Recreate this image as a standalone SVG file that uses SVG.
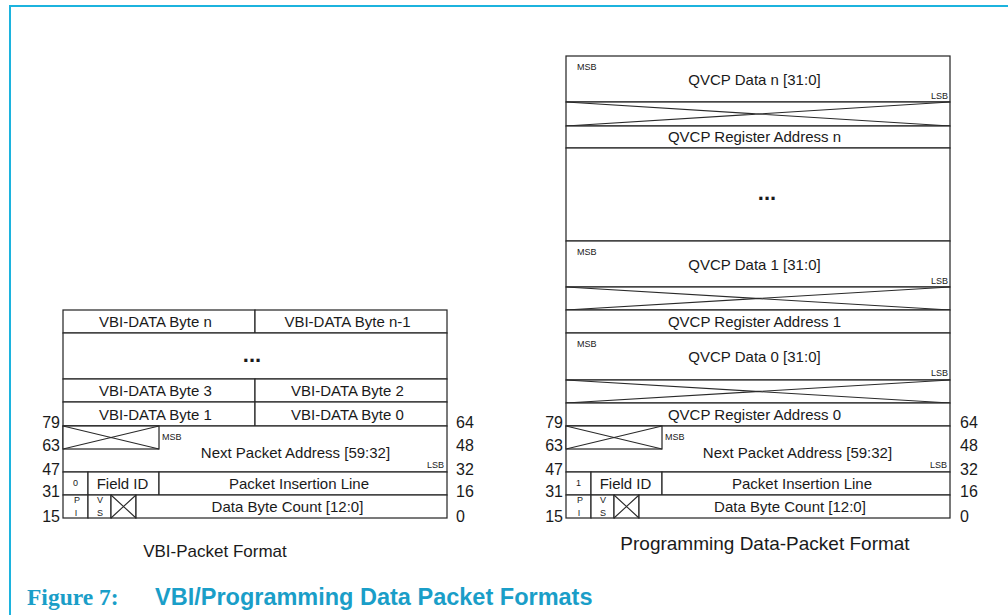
<svg xmlns="http://www.w3.org/2000/svg" width="1008" height="615" viewBox="0 0 1008 615">
<style>
.box{fill:#fff;stroke:#2a2a2a;stroke-width:1.25}
.x{stroke:#2a2a2a;stroke-width:1.1;fill:none}
.t{font-family:"Liberation Sans",Arial,sans-serif;font-size:15px;fill:#1a1a1a;text-anchor:middle}
.s{font-family:"Liberation Sans",Arial,sans-serif;font-size:9px;fill:#1a1a1a}
.c{text-anchor:middle}
.e{text-anchor:end}
.n{font-family:"Liberation Sans",Arial,sans-serif;font-size:16px;fill:#1a1a1a}
.cap{font-family:"Liberation Sans",Arial,sans-serif;font-size:17px;fill:#1a1a1a;text-anchor:middle}
.dots{font-family:"Liberation Sans",Arial,sans-serif;font-size:22px;font-weight:bold;fill:#1a1a1a;text-anchor:middle}
</style>
<path d="M10 615 V6 H1008" stroke="#1cb3de" stroke-width="2" fill="none"/>

<!-- VBI packet -->
<g id="vbi-byte-n">
<rect class="box" x="63" y="310" width="192" height="23"/><rect class="box" x="255" y="310" width="192" height="23"/>
<text class="t" x="155.5" y="327">VBI-DATA Byte n</text><text class="t" x="347.5" y="327">VBI-DATA Byte n-1</text>
</g>
<g id="vbi-ellipsis">
<rect class="box" x="63" y="333" width="384" height="46"/>
<text class="dots" x="252" y="362">...</text>
</g>
<g id="vbi-byte-3">
<rect class="box" x="63" y="379" width="192" height="23"/><rect class="box" x="255" y="379" width="192" height="23"/>
<text class="t" x="155.5" y="396">VBI-DATA Byte 3</text><text class="t" x="347.5" y="396">VBI-DATA Byte 2</text>
</g>
<g id="vbi-byte-1">
<rect class="box" x="63" y="402" width="192" height="24"/><rect class="box" x="255" y="402" width="192" height="24"/>
<text class="t" x="155.5" y="419.5">VBI-DATA Byte 1</text><text class="t" x="347.5" y="419.5">VBI-DATA Byte 0</text>
</g>
<g id="vbi-next-addr">
<rect class="box" x="63" y="426" width="384" height="46"/>
<rect class="box" x="63" y="426" width="96" height="23"/>
<path class="x" d="M63 426 L159 449 M63 449 L159 426"/>
<text class="s" x="162" y="440">MSB</text>
<text class="t" x="295.5" y="458">Next Packet Address [59:32]</text>
<text class="s e" x="444" y="468">LSB</text>
</g>
<g id="vbi-field">
<rect class="box" x="63" y="472" width="25" height="23"/><rect class="box" x="88" y="472" width="71" height="23"/><rect class="box" x="159" y="472" width="288" height="23"/>
<text class="s c" x="75.5" y="486">0</text>
<text class="t" x="122.5" y="489">Field ID</text>
<text class="t" x="299" y="489">Packet Insertion Line</text>
</g>
<g id="vbi-count">
<rect class="box" x="63" y="495" width="25" height="23"/><rect class="box" x="88" y="495" width="23" height="23"/><rect class="box" x="111" y="495" width="25" height="23"/><rect class="box" x="136" y="495" width="311" height="23"/>
<path class="x" d="M111 495 L136 518 M111 518 L136 495"/>
<text class="s c" x="77" y="503">P</text><text class="s c" x="76" y="516">I</text>
<text class="s c" x="100" y="503">V</text><text class="s c" x="100" y="516">S</text>
<text class="t" x="287.5" y="511.5">Data Byte Count [12:0]</text>
</g>
<g id="vbi-bits">
<text class="n e" x="60" y="428">79</text><text class="n e" x="60" y="451">63</text><text class="n e" x="60" y="475">47</text><text class="n e" x="60" y="497">31</text><text class="n e" x="60" y="522">15</text>
<text class="n" x="456" y="428">64</text><text class="n" x="456" y="451">48</text><text class="n" x="456" y="475">32</text><text class="n" x="456" y="497">16</text><text class="n" x="456" y="522">0</text>
</g>
<text id="vbi-caption" class="cap" x="215" y="557">VBI-Packet Format</text>

<!-- Programming packet -->
<g id="prog-data-n">
<rect class="box" x="566" y="56" width="384" height="46"/>
<text class="s" x="577" y="70">MSB</text>
<text class="t" x="754.5" y="84.5">QVCP Data n [31:0]</text>
<text class="s e" x="948" y="99">LSB</text>
</g>
<g id="prog-x-n">
<rect class="box" x="566" y="102" width="384" height="24"/>
<path class="x" d="M566 102 L950 126 M566 126 L950 102"/>
</g>
<g id="prog-reg-n">
<rect class="box" x="566" y="126" width="384" height="22"/>
<text class="t" x="754.5" y="142">QVCP Register Address n</text>
</g>
<g id="prog-ellipsis">
<rect class="box" x="566" y="148" width="384" height="93"/>
<text class="dots" x="767" y="200">...</text>
</g>
<g id="prog-data-1">
<rect class="box" x="566" y="241" width="384" height="46"/>
<text class="s" x="577" y="255">MSB</text>
<text class="t" x="754.5" y="269.5">QVCP Data 1 [31:0]</text>
<text class="s e" x="948" y="284">LSB</text>
</g>
<g id="prog-x-1">
<rect class="box" x="566" y="287" width="384" height="23"/>
<path class="x" d="M566 287 L950 310 M566 310 L950 287"/>
</g>
<g id="prog-reg-1">
<rect class="box" x="566" y="310" width="384" height="23"/>
<text class="t" x="754.5" y="327">QVCP Register Address 1</text>
</g>
<g id="prog-data-0">
<rect class="box" x="566" y="333" width="384" height="47"/>
<text class="s" x="577" y="347">MSB</text>
<text class="t" x="754.5" y="361.5">QVCP Data 0 [31:0]</text>
<text class="s e" x="948" y="376">LSB</text>
</g>
<g id="prog-x-0">
<rect class="box" x="566" y="380" width="384" height="23"/>
<path class="x" d="M566 380 L950 403 M566 403 L950 380"/>
</g>
<g id="prog-reg-0">
<rect class="box" x="566" y="403" width="384" height="23"/>
<text class="t" x="754.5" y="419.5">QVCP Register Address 0</text>
</g>
<g id="prog-next-addr">
<rect class="box" x="566" y="426" width="384" height="46"/>
<rect class="box" x="566" y="426" width="96" height="23"/>
<path class="x" d="M566 426 L662 449 M566 449 L662 426"/>
<text class="s" x="665" y="440">MSB</text>
<text class="t" x="797.5" y="458">Next Packet Address [59:32]</text>
<text class="s e" x="947" y="468">LSB</text>
</g>
<g id="prog-field">
<rect class="box" x="566" y="472" width="25" height="23"/><rect class="box" x="591" y="472" width="71" height="23"/><rect class="box" x="662" y="472" width="288" height="23"/>
<text class="s c" x="578.5" y="486">1</text>
<text class="t" x="625.5" y="489">Field ID</text>
<text class="t" x="802" y="489">Packet Insertion Line</text>
</g>
<g id="prog-count">
<rect class="box" x="566" y="495" width="25" height="23"/><rect class="box" x="591" y="495" width="23" height="23"/><rect class="box" x="614" y="495" width="25" height="23"/><rect class="box" x="639" y="495" width="311" height="23"/>
<path class="x" d="M614 495 L639 518 M614 518 L639 495"/>
<text class="s c" x="580" y="503">P</text><text class="s c" x="579" y="516">I</text>
<text class="s c" x="603" y="503">V</text><text class="s c" x="603" y="516">S</text>
<text class="t" x="790" y="511.5">Data Byte Count [12:0]</text>
</g>
<g id="prog-bits">
<text class="n e" x="563" y="428">79</text><text class="n e" x="563" y="451">63</text><text class="n e" x="563" y="475">47</text><text class="n e" x="563" y="497">31</text><text class="n e" x="563" y="522">15</text>
<text class="n" x="960" y="428">64</text><text class="n" x="960" y="451">48</text><text class="n" x="960" y="475">32</text><text class="n" x="960" y="497">16</text><text class="n" x="960" y="522">0</text>
</g>
<text id="prog-caption" class="cap" x="765" y="550" style="font-size:19px">Programming Data-Packet Format</text>

<g id="figure-caption" fill="#1a9ec8" font-weight="bold">
<text x="27" y="605" font-family="'Liberation Serif','Times New Roman',serif" font-size="23.5">Figure 7:</text>
<text x="155" y="605" font-family="'Liberation Sans',Arial,sans-serif" font-size="23.5">VBI/Programming Data Packet Formats</text>
</g>
</svg>
